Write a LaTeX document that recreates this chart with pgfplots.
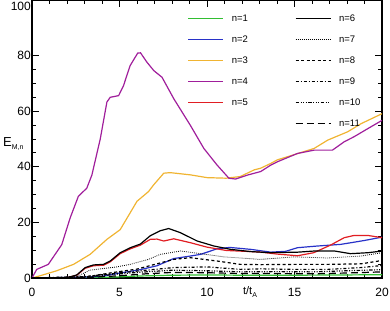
\documentclass[border=0pt]{standalone}
\usepackage{pgfplots}
\pgfplotsset{compat=1.18}
\usepackage{fontspec}
\setmainfont{Liberation Sans}
\definecolor{cgreen}{RGB}{50,190,50}
\definecolor{cblue}{RGB}{40,50,200}
\definecolor{cyellow}{RGB}{240,180,50}
\definecolor{cpurple}{RGB}{160,30,155}
\definecolor{cred}{RGB}{225,30,35}
\begin{document}
\begin{tikzpicture}[x=1pt,y=1pt]
\useasboundingbox (-32,-32) rectangle (358,278);
\begin{axis}[
  at={(0,0)}, anchor=south west,
  scale only axis, width=350pt, height=278pt,
  xmin=0, xmax=20, ymin=0, ymax=100,
  xtick={0,5,10,15,20}, ytick={0,20,40,60,80},
  extra y ticks={100},
  extra y tick style={yticklabel style={yshift=-6pt}},
  minor x tick num=4, minor y tick num=3,
  tick align=inside,
  major tick length=7pt, minor tick length=4pt,
  axis line style={line width=1.1pt},
  every tick/.style={black, line width=0.9pt},
  /pgf/number format/assume math mode=true,
  tick label style={font=\fontsize{12}{12}\selectfont},
  yticklabel style={inner sep=0pt, xshift=-1pt},
  xticklabel style={inner sep=0pt, yshift=-10pt},
  every axis plot/.append style={line width=1.2pt},
  clip=true,
  legend image code/.code={\draw[#1] (0pt,0pt) -- (35pt,0pt);},
  legend style={draw=none, fill=none, at={(axis cs:8.88,94.7)}, anchor=north west,
    inner sep=0pt, font=\fontsize{9.5}{9.5}\selectfont, row sep=14pt,
    nodes={inner sep=0pt, text height=7pt, text depth=0pt},
    /tikz/every odd column/.append style={column sep=8pt},
    /tikz/every even column/.append style={column sep=47pt}},
  legend cell align=left,
  legend columns=6, transpose legend,
]
\addplot[cgreen] coordinates {(0,0)(3,0.1)(5,0.4)(6,0.7)(8,1)(10,1.1)(12,1.0)(15,1.0)(18,1.1)(20,1.2)};
\addlegendentry{n=1}
\addplot[cblue] coordinates {(0,0)(3,0.3)(4,0.6)(5.04,1.8)(6.19,3)(7.14,4.4)(8.1,7.0)(9.05,7.9)(9.63,8.5)(10.58,10.5)(11.3,11)(12.5,10.3)(13.64,9.3)(14.5,9.6)(15.17,10.9)(16.3,11.5)(17.65,12.1)(19,13.5)(20,14.7)};
\addlegendentry{n=2}
\addplot[cyellow] coordinates {(0,0)(0.46,0.8)(1.41,2.6)(2.37,4.9)(3.32,8.5)(4.28,13.9)(5.04,17.4)(6,27.6)(6.66,31.1)(6.95,33.5)(7.53,37.7)(7.9,37.9)(9.05,37.1)(10,36.1)(11.1,35.9)(11.9,36.5)(12.7,38.9)(13.07,39.5)(13.64,41.2)(14.02,42.5)(15.2,44.8)(16.12,46.6)(16.9,49.6)(18.04,52.6)(18.8,55.5)(20,59.1)};
\addlegendentry{n=3}
\addplot[cpurple] coordinates {(0,0)(0.27,3.1)(0.93,4.9)(1.7,12)(2.18,21.6)(2.65,29.4)(3.13,32.3)(3.42,37)(3.9,50)(4.28,63.3)(4.47,65)(4.95,65.6)(5.23,69.2)(5.6,76.3)(6.04,80.9)(6.2,81)(6.57,77.6)(6.96,74.6)(7.43,72.2)(8.1,64.5)(9.05,54.9)(9.82,46.6)(10.58,40.6)(11.25,35.9)(11.63,35.6)(12.3,37)(13.07,38.3)(13.64,40.6)(14.02,41.8)(15.17,44.8)(16.12,46)(17.17,46)(17.84,49)(18.4,50.8)(19.18,53.7)(20,56.7)};
\addlegendentry{n=4}
\addplot[cred] coordinates {(0,0)(2,0.1)(2.56,1.0)(3.04,3.5)(3.51,4.4)(4.09,4.6)(4.47,5.8)(5.04,8.75)(5.62,10.5)(6.19,11.8)(6.76,13.9)(7.14,14)(7.53,13.3)(8.1,14.1)(9.05,12.7)(10,11.1)(11.1,9.9)(12.5,9.5)(13.07,9.3)(14.02,8.6)(15.17,8.0)(16.1,9.1)(17.08,11.9)(17.84,14.5)(18.4,15.3)(19.2,15.3)(20,14.5)};
\addlegendentry{n=5}
\addlegendimage{empty legend}
\addlegendentry{}
\addplot[black] coordinates {(0,0)(2,0.1)(2.56,1.1)(3.04,3.75)(3.51,4.7)(4.09,4.9)(4.47,6.1)(5.04,9.1)(5.62,10.9)(6.19,12.2)(6.76,15.2)(7.33,17)(7.81,17.8)(8.48,16.3)(9.44,13.3)(10.4,11.5)(11.35,10.3)(12.5,9.5)(13.64,9.1)(15.2,9.3)(16.12,9.7)(17.3,9.7)(18.2,8.75)(19.2,9.1)(20,9.7)};
\addlegendentry{n=6}
\addplot[black, line width=0.8pt, dash pattern=on 0.8pt off 1.2pt] coordinates {(0,0)(2.5,0.3)(3.3,2.8)(4.85,4)(5.6,4.9)(6.66,6.7)(7.33,8.5)(8.48,9.7)(9.63,8.75)(10.96,7.6)(11.9,7.2)(13.07,6.7)(14.97,7.6)(16.9,7.2)(18.8,7.9)(20,9.1)};
\addlegendentry{n=7}
\addplot[black, dash pattern=on 3pt off 2.5pt] coordinates {(0,0)(3,0.3)(4.66,2)(6,3.2)(8.1,6.7)(9.05,7.3)(10.58,6.1)(11.9,4.9)(13.07,4.8)(14.97,4.9)(16.9,4.9)(18.8,5.1)(20,6.3)};
\addlegendentry{n=8}
\addplot[black, dash pattern=on 3pt off 2pt on 1pt off 2pt] coordinates {(0,0)(3,0.5)(4.5,1.5)(6.19,2.6)(8.1,3.75)(10,4.0)(11.9,3.1)(13.07,3.3)(14.97,3.1)(16.9,3.1)(18.8,3.75)(20,4.5)};
\addlegendentry{n=9}
\addplot[black, dash pattern=on 3.5pt off 1.5pt on 1pt off 1.5pt on 1pt off 1.5pt on 1pt off 1.5pt] coordinates {(0,0)(3,0.3)(4.5,1.2)(6,2)(8,2.8)(10,2.6)(12,2.2)(14,2.3)(16,2.2)(18,2.6)(20,3)};
\addlegendentry{n=10}
\addplot[black, dash pattern=on 7pt off 4pt] coordinates {(0,0)(3.5,0.3)(5,0.8)(6.5,1.5)(8,2)(10,1.9)(12,1.6)(14,1.6)(16,1.5)(18,1.8)(20,2.2)};
\addlegendentry{n=11}
\end{axis}
\node[font=\fontsize{13}{13}\selectfont, anchor=west, inner sep=0pt] at (-29,134) {E\raisebox{-0.5ex}{\fontsize{7}{7}\selectfont M,n}};
\node[font=\fontsize{11}{11}\selectfont, inner sep=0pt] at (218,-14) {t/t\raisebox{-0.5ex}{\fontsize{7}{7}\selectfont A}};
\end{tikzpicture}
\end{document}
